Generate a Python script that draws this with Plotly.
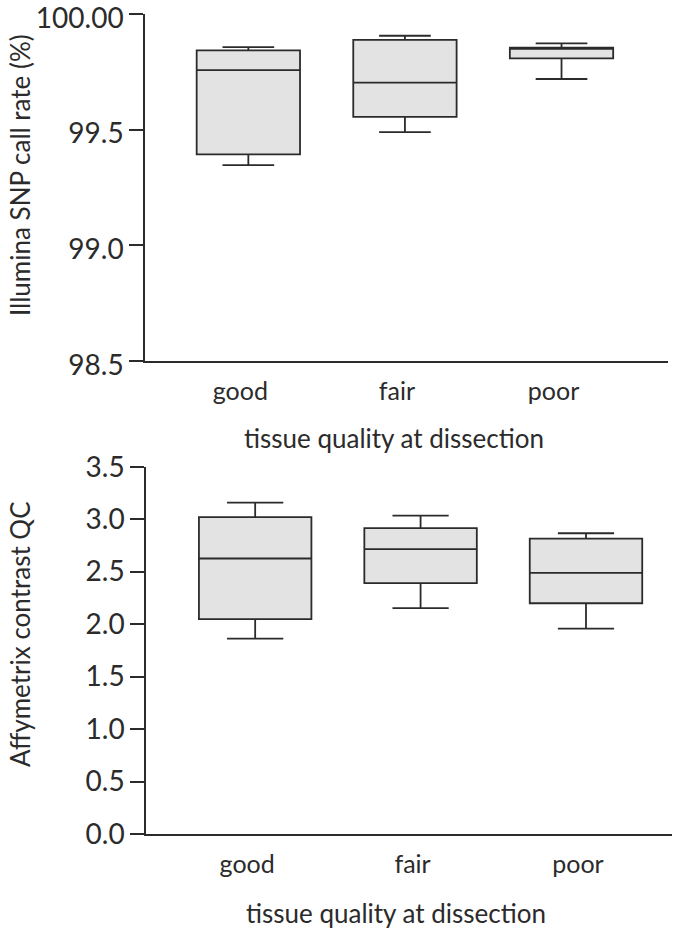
import plotly.graph_objects as go

# tissue quality groups
groups = ["good", "fair", "poor"]

# Illumina SNP call rate (%) - box statistics
snp_lower = [99.347, 99.489, 99.719]
snp_q1 = [99.393, 99.555, 99.808]
snp_median = [99.757, 99.703, 99.850]
snp_q3 = [99.843, 99.888, 99.854]
snp_upper = [99.857, 99.906, 99.873]

# Affymetrix contrast QC - box statistics
affy_lower = [1.862, 2.152, 1.957]
affy_q1 = [2.047, 2.390, 2.199]
affy_median = [2.625, 2.714, 2.488]
affy_q3 = [3.019, 2.914, 2.815]
affy_upper = [3.158, 3.034, 2.866]

snp_ticks = [98.5, 99.0, 99.5, 100.0]
snp_ticktext = ["98.5", "99.0", "99.5", "100.00"]
affy_ticks = [0.0, 0.5, 1.0, 1.5, 2.0, 2.5, 3.0, 3.5]

W, H = 675, 935
FONT = "Lato"
INK = "#2b2b2b"
FILL = "#e3e3e3"

fig = go.Figure()

fig.add_trace(go.Box(
    x=groups, q1=snp_q1, median=snp_median, q3=snp_q3,
    lowerfence=snp_lower, upperfence=snp_upper,
    width=0.66, whiskerwidth=0.5,
    fillcolor=FILL, line=dict(color=INK, width=1.8),
    xaxis="x", yaxis="y", showlegend=False, hoverinfo="skip"
))

fig.add_trace(go.Box(
    x=groups, q1=affy_q1, median=affy_median, q3=affy_q3,
    lowerfence=affy_lower, upperfence=affy_upper,
    width=0.68, whiskerwidth=0.5,
    fillcolor=FILL, line=dict(color=INK, width=1.8),
    xaxis="x2", yaxis="y2", showlegend=False, hoverinfo="skip"
))

def px_x(p):
    return p / W

def px_y(p):
    return 1 - p / H

xcommon = dict(
    type="category", showgrid=False, zeroline=False, showline=True,
    linecolor=INK, linewidth=1.5, ticks="outside", ticklen=7,
    tickcolor="rgba(0,0,0,0)", ticklabelshift=-8, automargin=False,
    ticklabeloverflow="allow",
    tickfont=dict(family=FONT, size=25, color=INK),
)
ycommon = dict(
    showgrid=False, zeroline=False, showline=True, linecolor=INK,
    linewidth=1.5, ticks="outside", ticklen=14, tickcolor=INK,
    tickwidth=1.5, automargin=False, ticklabeloverflow="allow",
    tickfont=dict(family=FONT, size=28, color=INK),
)

def label(text, x, y, angle=0):
    return dict(text=text, x=px_x(x), y=px_y(y), xref="paper", yref="paper",
                xanchor="center", yanchor="middle", showarrow=False,
                textangle=angle, font=dict(family=FONT, size=26, color=INK))

fig.update_layout(
    width=W, height=H,
    margin=dict(l=0, r=0, t=0, b=0, autoexpand=False),
    paper_bgcolor="white", plot_bgcolor="white",
    font=dict(family=FONT, color=INK),
    xaxis=dict(domain=[px_x(145), px_x(668)], range=[-0.66, 2.68],
               anchor="y", **xcommon),
    yaxis=dict(domain=[px_y(361), px_y(14)], range=[98.5, 100.0],
               tickvals=snp_ticks, ticktext=snp_ticktext,
               ticklabelshift=4, anchor="x", **ycommon),
    xaxis2=dict(domain=[px_x(146), px_x(672)], range=[-0.66, 2.52],
                anchor="y2", **xcommon),
    yaxis2=dict(domain=[px_y(834), px_y(466.7)], range=[0, 3.5],
                tickvals=affy_ticks, tickformat=".1f",
                anchor="x2", **ycommon),
    annotations=[
        label("tissue quality at dissection", 394, 438),
        label("tissue quality at dissection", 396, 913),
        label("Illumina SNP call rate (%)", 20, 175, -90),
        label("Affymetrix contrast QC", 20, 634, -90),
    ],
)

# drop the page's default body margin so the figure sits at the window's corner
fig.write_html("out.html", config={"displayModeBar": False},
               post_script="document.body.style.margin='0';")
